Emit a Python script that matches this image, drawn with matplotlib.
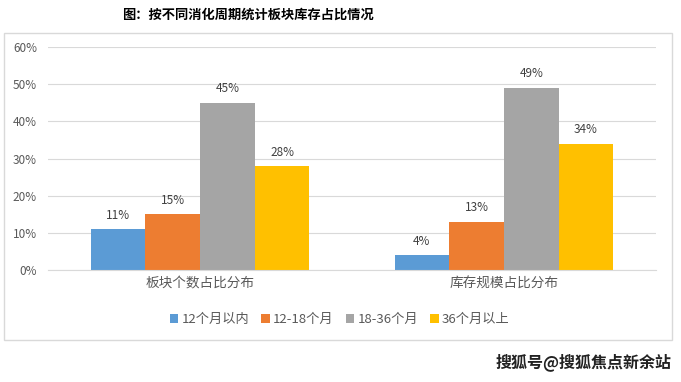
import matplotlib
matplotlib.use("Agg")
import matplotlib.pyplot as plt
from matplotlib.patches import Rectangle
import numpy as np

plt.rcParams['font.family'] = ['Noto Sans CJK SC', 'DejaVu Sans']

categories = ["板块个数占比分布", "库存规模占比分布"]
series = ["12个月以内", "12-18个月", "18-36个月", "36个月以上"]
values = [
    [11, 4],
    [15, 13],
    [45, 49],
    [28, 34],
]
colors = ["#5B9BD5", "#ED7D31", "#A5A5A5", "#FFC000"]
yticks = [0, 10, 20, 30, 40, 50, 60]

fig = plt.figure(figsize=(6.81, 3.82), dpi=100)

# outer frame of the chart
fig.patches.append(Rectangle((4 / 681, 1 - 340 / 382), 668 / 681, 307 / 382,
                             transform=fig.transFigure, fill=False,
                             edgecolor="#D9D9D9", linewidth=1.0))

ax = fig.add_axes([48 / 681, 1 - 270 / 382, 608 / 681, 223 / 382])

x = np.arange(len(categories))
width = 0.18
for i, (name, vals) in enumerate(zip(series, values)):
    pos = x + (i - 1.5) * width
    bars = ax.bar(pos, vals, width, color=colors[i], label=name)
    for b, v in zip(bars, vals):
        ax.text(b.get_x() + b.get_width() / 2, v + 2.0, f"{v}%",
                ha="center", va="bottom", fontsize=8.5, color="#404040")

ax.set_xlim(-0.5, 1.5)
ax.set_ylim(0, 60)
ax.set_yticks(yticks)
ax.set_yticklabels([f"{t}%" for t in yticks])
ax.set_xticks(x)
ax.set_xticklabels(categories, fontsize=9.8)
ax.tick_params(axis="both", length=0, colors="#595959")
ax.tick_params(axis="y", pad=8, labelsize=8.5)
ax.tick_params(axis="x", pad=5)
ax.grid(axis="y", color="#D9D9D9", linewidth=0.8)
ax.set_axisbelow(True)
for s in ["top", "right", "left"]:
    ax.spines[s].set_visible(False)
ax.spines["bottom"].set_color("#D9D9D9")

ax.legend(loc="upper center", bbox_to_anchor=(0.48, -0.14), ncol=4,
          frameon=False, fontsize=9.5, handlelength=0.65, handleheight=0.65,
          handletextpad=0.25, columnspacing=0.9, labelcolor="#595959")

fig.text(248 / 681, 1 - 15 / 382, "图：按不同消化周期统计板块库存占比情况",
         ha="center", va="center", fontsize=9.5, fontweight="bold")
fig.text(672 / 681, 1 - 362 / 382, "搜狐号@搜狐焦点新余站", ha="right", va="center",
         fontsize=11.5, fontweight="bold", color="#222222")

fig.savefig("out.png", dpi=100)
